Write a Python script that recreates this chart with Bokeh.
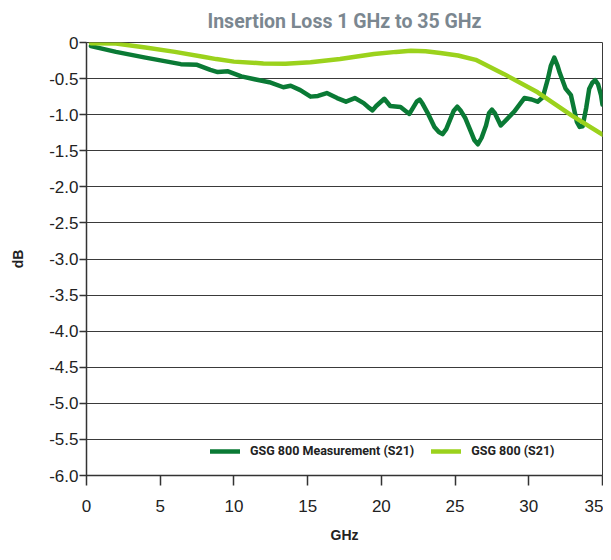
from bokeh.plotting import figure
from bokeh.models import FixedTicker, Legend, LegendItem
from bokeh.embed import file_html
from bokeh.resources import INLINE

# ---- data ----
meas_ghz = [0.3, 2.0, 4.0, 6.4, 7.5, 8.4, 8.9, 9.6, 10.5, 11.4, 12.4, 13.35, 13.85,
            14.5, 15.2, 15.7, 16.3, 17.0, 17.6, 18.2, 18.8, 19.2, 19.4, 19.65, 20.2,
            20.6, 21.3, 21.9, 22.4, 22.6, 22.8, 23.2, 23.6, 23.9, 24.15, 24.4, 24.9,
            25.15, 25.4, 25.7, 26.1, 26.3, 26.55, 26.8, 27.1, 27.3, 27.5, 27.7, 28.1,
            29.0, 29.7, 30.2, 30.6, 30.95, 31.3, 31.5, 31.73, 31.95, 32.1, 32.5,
            32.86, 33.26, 33.45, 33.65, 33.9, 34.1, 34.3, 34.5, 34.7, 34.9, 35.0]
meas_db = [-0.05, -0.13, -0.21, -0.30, -0.31, -0.38, -0.41, -0.40, -0.47, -0.51, -0.55,
           -0.62, -0.60, -0.66, -0.75, -0.74, -0.70, -0.77, -0.82, -0.77, -0.84, -0.91,
           -0.94, -0.88, -0.78, -0.88, -0.895, -0.99, -0.82, -0.79, -0.85, -1.00, -1.17,
           -1.24, -1.27, -1.20, -0.95, -0.89, -0.95, -1.05, -1.25, -1.35, -1.41, -1.32,
           -1.15, -0.98, -0.93, -0.98, -1.15, -0.96, -0.77, -0.79, -0.82, -0.76, -0.50,
           -0.32, -0.21, -0.32, -0.42, -0.64, -0.73, -1.10, -1.17, -1.16, -0.90, -0.64,
           -0.56, -0.52, -0.58, -0.73, -0.86]

sim_ghz = [0.3, 2.0, 4.0, 6.0, 8.0, 8.8, 10.0, 12.0, 13.5, 15.2, 17.2, 19.5, 21.0,
           22.0, 23.0, 24.0, 25.2, 26.4, 28.3, 30.6, 32.9, 35.0]
sim_db = [-0.01, -0.015, -0.07, -0.13, -0.20, -0.23, -0.265, -0.29, -0.295, -0.275,
          -0.23, -0.16, -0.13, -0.115, -0.12, -0.146, -0.18, -0.24, -0.435, -0.69,
          -1.01, -1.275]

x_ticks = [0, 5, 10, 15, 20, 25, 30, 35]
y_ticks = [0, -0.5, -1.0, -1.5, -2.0, -2.5, -3.0, -3.5, -4.0, -4.5, -5.0, -5.5, -6.0]
y_tick_labels = ["0", "-0.5", "-1.0", "-1.5", "-2.0", "-2.5", "-3.0", "-3.5",
                 "-4.0", "-4.5", "-5.0", "-5.5", "-6.0"]

title_text = "Insertion Loss 1 GHz to 35 GHz"
meas_name = "GSG 800 Measurement (S21)"
sim_name = "GSG 800 (S21)"

DARK = "#0a7a35"
LIGHT = "#9bd21c"
COND = "Roboto"
BODY = "Liberation Sans"
GRID = "#3a3a3a"

p = figure(width=603, height=552, x_range=(0, 35), y_range=(-6, 0),
           output_backend="svg", toolbar_location=None,
           min_border_left=86, min_border_right=1, min_border_top=42,
           min_border_bottom=77)

p.title.text = title_text
p.title.text_font = COND
p.title.text_font_style = "bold"
p.title.text_font_size = "19.5px"
p.title.text_color = "#7b8790"
p.title.align = "center"
p.title.vertical_align = "top"
p.title.offset = 3
p.title.standoff = 15

p.background_fill_color = "white"
p.outline_line_color = GRID
p.outline_line_width = 1

p.xgrid.grid_line_color = None
p.ygrid.ticker = FixedTicker(ticks=y_ticks)
p.ygrid.grid_line_color = GRID
p.ygrid.grid_line_width = 1
p.ygrid.grid_line_alpha = 1

p.xaxis.ticker = FixedTicker(ticks=x_ticks)
p.yaxis.ticker = FixedTicker(ticks=y_ticks)
p.yaxis.major_label_overrides = {t: l for t, l in zip(y_ticks, y_tick_labels)}

for ax in (p.xaxis[0], p.yaxis[0]):
    ax.axis_line_color = "#333333"
    ax.axis_line_width = 1.5
    ax.major_tick_line_color = "#333333"
    ax.major_tick_line_width = 1.5
    ax.major_tick_in = 0
    ax.minor_tick_line_color = None
    ax.major_label_text_font = BODY
    ax.major_label_text_font_size = "17px"
    ax.major_label_text_color = "#222222"
    ax.axis_label_text_font = BODY
    ax.axis_label_text_font_style = "bold"
    ax.axis_label_text_font_size = "14px"
    ax.axis_label_text_color = "#222222"

p.xaxis.major_tick_out = 10
p.xaxis.major_label_standoff = 14
p.xaxis.axis_label = "GHz"
p.xaxis.axis_label_standoff = 12

p.yaxis.major_tick_out = 7
p.yaxis.major_label_standoff = 1
p.yaxis.axis_label = "dB"
p.yaxis.axis_label_standoff = 20

r_meas = p.line(meas_ghz, meas_db, line_color=DARK, line_width=4.5,
                line_join="round", line_cap="round")
r_sim = p.line(sim_ghz, sim_db, line_color=LIGHT, line_width=4.5,
               line_join="round", line_cap="round")

legend = Legend(items=[LegendItem(label=meas_name, renderers=[r_meas]),
                       LegendItem(label=sim_name, renderers=[r_sim])],
                orientation="horizontal", location=(124, 17),
                padding=0, margin=0, spacing=17, label_standoff=10,
                glyph_width=30, glyph_height=12,
                background_fill_alpha=0, border_line_color=None,
                label_text_font=COND, label_text_font_style="bold",
                label_text_font_size="12.5px", label_text_color="#222222")
p.add_layout(legend)

open("out.html", "w").write(file_html(p, INLINE))
